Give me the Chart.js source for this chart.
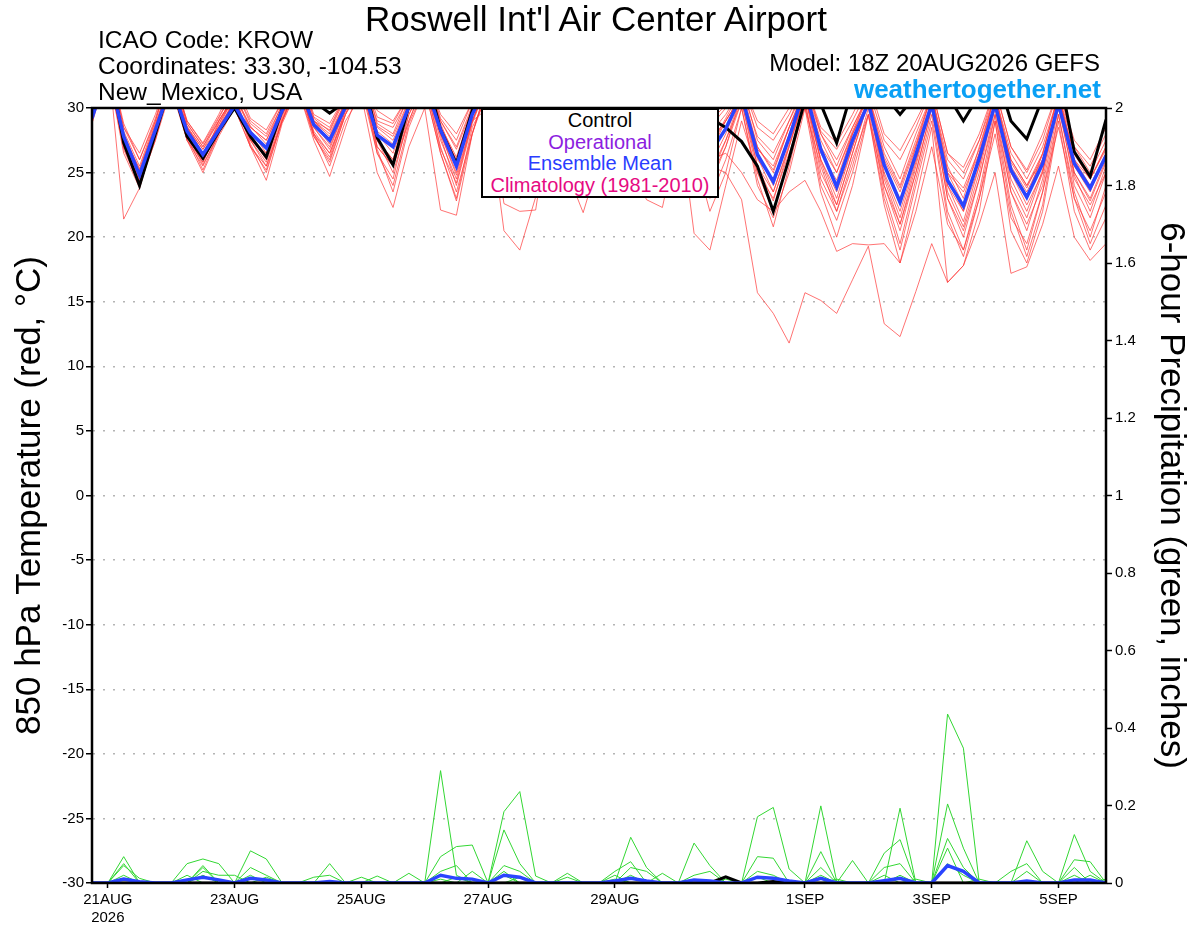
<!DOCTYPE html>
<html>
<head>
<meta charset="utf-8">
<script src="https://cdn.jsdelivr.net/npm/chart.js@4.4.1/dist/chart.umd.min.js"></script>
<style>
body { margin: 0; background: #fff; }
#wrap { position: relative; width: 1200px; height: 927px; font-family: "Liberation Sans", Arial, sans-serif; color: #000; }
#c { position: absolute; left: 0; top: 0; }
.t { position: absolute; white-space: nowrap; }
#legendBox { position: absolute; left: 481px; top: 108px; width: 234px; height: 86px; border: 2px solid #000; background: #fff; text-align: center; font-size: 20px; line-height: 21.5px; }
</style>
</head>
<body>
<div id="wrap">
<canvas id="c" width="1200" height="927"></canvas>
<div class="t" style="left:0;width:1192px;top:1px;text-align:center;font-size:35px;line-height:35px;">Roswell Int'l Air Center Airport</div>
<div class="t" style="left:98px;top:28px;font-size:24.5px;line-height:24px;">ICAO Code: KROW</div>
<div class="t" style="left:98px;top:54px;font-size:24.5px;line-height:24px;">Coordinates: 33.30, -104.53</div>
<div class="t" style="left:98px;top:80px;font-size:24.5px;line-height:24px;">New_Mexico, USA</div>
<div class="t" style="right:100px;top:51px;font-size:24px;line-height:24px;">Model: 18Z 20AUG2026 GEFS</div>
<div class="t" style="right:99px;top:76px;font-size:26px;line-height:26px;font-weight:bold;color:#0aa0f5;">weathertogether.net</div>
<div id="legendBox">
  <div style="color:#000">Control</div>
  <div style="color:#8c1ee0">Operational</div>
  <div style="color:#2a3cff">Ensemble Mean</div>
  <div style="color:#e60a82">Climatology (1981-2010)</div>
</div>
</div>
<script>
// time steps: 0 = 18Z 20AUG, every 6 hours up to 18Z 5SEP
const steps = Array.from({length: 65}, (_, i) => i);
const tickSteps = [1, 9, 17, 25, 33, 45, 53, 61];
const tickDates = ['21AUG', '23AUG', '25AUG', '27AUG', '29AUG', '1SEP', '3SEP', '5SEP'];
const tickYear = '2026';

// 850 hPa temperature, control and ensemble mean (values above 30 run off the top)
const controlTemp = [30.5,
  34,27.3,24.0,28.0, 32,27.8,26.1,28.2, 30.0,27.8,26.2,29.9, 33,30.5,29.6,30.5,
  33,27.7,25.6,30.2, 33,28.3,25.7,29.8, 33,29.5,28.0,30.5, 33,31,30.2,31,
  33,31,30.3,30.6, 32,30.0,29.2,28.5, 27.4,25.5,22.0,26.1, 30.6,30.3,27.3,31.5,
  33,31,29.5,31, 33,31,29.0,31, 33,29.0,27.6,30.8, 33,26.6,24.7,29.1];
const meanTemp = [29.2,
  33,27.8,24.8,28.3, 31.8,28.2,26.4,28.3, 30.2,28.1,26.9,29.8, 32,28.7,27.5,30.1,
  32,27.9,27.0,30.1, 32,28.3,25.5,29.5, 32,29.0,27.5,29.2, 32,30.5,29.6,30.3,
  32,30.4,29.7,30.2, 32,29.5,26.5,28.4, 31,26.4,24.3,27.7, 31.5,26.8,23.9,27.5,
  30.4,25.6,22.7,26.4, 30.3,24.4,22.4,26.1, 30.3,25.2,23.1,25.7, 30.3,25.7,23.8,26.3];

// ensemble members
const mem01 = [29.5, 33,26.5,23.8,28.0, 32,27.5,25.8,28.5, 31,27.2,25.0,29.0, 32,27.8,26.0,29.5, 33,27.0,25.5,29.0, 32,26.8,24.2,29.0, 32,27.5,25.0,28.5, 32,29.5,28.0,30.5, 32,30.0,28.5,30.5, 31,27.5,24.5,27.5, 31,25.5,22.8,27.0, 31,25.8,22.5,26.5, 30.5,24.5,21.0,25.5, 30.5,23.5,20.8,25.0, 30.5,24.0,21.5,25.0, 31,24.8,22.0,25.5];
const mem02 = [30.5, 34,28.5,26.5,29.5, 33,29.0,27.3,29.5, 32,29.2,28.3,30.5, 33,29.5,28.8,31, 33,29.8,29.0,31, 33,29.5,28.0,30.5, 33,30.5,29.5,31, 33,31.5,31.0,31.5, 33,31.5,31.0,31.5, 33,30.5,29.5,30.5, 32,29.0,28.0,30.0, 32,28.5,27.3,29.5, 32,28.0,26.7,29.0, 31.5,26.5,25.4,28.0, 31.5,27.0,25.2,28.0, 31.5,27.5,26.0,28.5];
const mem03 = [28.8, 34,21.4,23.8,28.0, 32,28.0,26.0,29.0, 31,27.5,26.5,29.5, 32,28.5,27.0,30.0, 32,28.0,26.5,30.0, 32,28.5,26.0,30.0, 32,29.0,27.0,29.5, 32,30.5,29.5,31, 32,30.5,29.0,30.5, 32,29.0,26.5,29.0, 31,26.0,24.4,28.0, 31,26.5,24.4,28.0, 31,25.5,22.5,27.0, 31,24.0,22.0,26.5, 31,25.0,23.0,26.5, 31,26.0,24.0,26.5];
const mem04 = [29.8, 33,27.5,24.5,28.0, 32,28.5,26.5,28.5, 30.5,28.0,27.0,30.0, 32,28.8,27.5,30.5, 32,27.5,26.0,30.0, 32,28.0,25.0,29.5, 32,28.5,27.5,29.0, 32,30.0,29.0,30.5, 31,29.5,28.5,29.5, 30,27.0,25.5,25.0, 22.9,15.7,14.1,11.8, 15.7,15.1,14.1,16.7, 19.3,13.3,12.3,15.8, 19.5,16.5,17.8,21.0, 25.0,17.2,17.7,21.0, 25.5,20.0,18.2,19.5];
const mem05 = [29.5, 33,27.0,24.2,27.5, 32,27.8,25.2,28.0, 31,27.0,25.5,29.0, 32,28.0,26.5,29.5, 32,26.5,24.5,29.5, 32,27.5,24.5,29.0, 32,27.0,26.0,28.5, 32,29.5,28.5,30.5, 31.5,29.5,29.0,30.0, 31,28.0,26.0,26.5, 25.0,22.9,22.0,23.5, 24.4,22.0,18.9,19.5, 19.4,19.5,18.0,22.0, 27.0,21.0,19.0,23.0, 28.0,21.5,19.5,23.5, 28.5,23.0,20.5,23.5];
const mem06 = [30.2, 33,27.8,25.0,28.5, 32,28.0,26.0,28.8, 31,27.5,25.5,29.0, 32,28.0,25.5,29.0, 31,25.0,22.3,27.0, 30,22.1,21.7,28.0, 32,28.0,26.5,29.5, 32,30.0,29.0,30.5, 32,30.5,29.5,30.8, 31,28.5,27.0,29.0, 31,27.0,25.0,28.5, 31,27.0,25.0,28.0, 30.5,26.0,23.5,27.0, 30.5,25.0,23.5,26.5, 30.5,26.0,24.0,26.0, 30.5,26.5,24.5,27.0];
const mem07 = [29.6, 33,28.0,25.2,28.8, 32,28.5,26.8,28.5, 30,28.5,27.5,30.0, 32,29.0,28.0,30.5, 32,28.5,27.5,30.5, 32,28.0,25.5,29.0, 30,20.5,19.0,23.1, 31,27.0,25.0,29.0, 32,30.0,28.0,29.5, 30,20.3,19.0,24.0, 29.0,25.0,23.0,26.5, 30.0,25.5,22.0,26.0, 29.5,24.0,21.0,25.0, 30.0,23.0,20.5,24.5, 29.5,23.5,21.0,24.0, 30.0,24.5,22.5,25.0];
const mem08 = [30.0, 33,27.5,24.8,28.0, 32,28.0,26.5,28.5, 30.5,28.0,27.0,29.5, 32,29.0,27.8,30.5, 32,28.0,27.0,30.0, 32,28.5,25.8,29.5, 31,22.6,22.0,22.1, 30,25.0,21.9,26.0, 30,25.5,22.9,22.3, 28,26.0,24.5,27.0, 31,26.5,24.0,27.5, 31,26.0,23.0,27.0, 30.5,25.0,22.0,26.0, 30.5,24.5,22.0,25.5, 30.5,25.0,22.5,25.0, 30.5,25.0,23.0,26.0];
const mem09 = [30.3, 34,28.2,25.5,29.0, 33,28.8,27.0,29.2, 31.5,28.8,27.8,30.2, 33,29.2,28.2,30.8, 33,28.8,28.0,31.0, 33,29.0,26.8,30.0, 33,29.5,28.5,30.2, 33,31.0,30.5,31.0, 33,31.0,30.5,31.0, 32,30.0,28.5,30.0, 32,27.5,26.0,29.0, 32,28.0,26.0,28.5, 31,27.0,24.5,28.0, 31,26.0,24.5,27.5, 31,26.5,24.5,27.0, 31,27.0,25.0,27.5];
const mem10 = [29.0, 33,27.0,24.0,27.8, 32,27.5,25.5,28.0, 30,27.0,24.4,28.8, 31.5,27.5,24.7,28.5, 32,27.5,25.0,29.0, 32,27.0,23.5,28.0, 32,27.5,24.0,27.5, 32,28.5,27.0,29.5, 31,28.5,27.0,29.0, 31,27.0,23.0,26.0, 30,24.5,20.8,25.5, 30.5,24.0,21.3,25.0, 29.5,23.0,19.0,24.0, 29.0,21.5,18.5,23.0, 29.0,22.0,18.5,22.5, 29.5,23.0,19.5,22.5];
const mem11 = [30.8, 34,28.8,26.0,29.2, 33,28.8,27.0,29.0, 31,28.5,27.5,30.3, 32.5,29.0,28.3,31.0, 32.5,29.0,28.5,30.8, 32.5,29.0,27.0,30.2, 32.5,30.0,28.8,30.5, 32.5,31.0,30.2,31.0, 32.5,30.8,30.0,30.8, 32,29.5,28.0,29.5, 31.5,27.8,26.5,29.0, 31.5,28.0,25.5,28.5, 31,26.5,24.0,27.5, 31,25.5,23.0,27.0, 31,26.0,24.0,26.5, 31,26.0,24.5,27.0];
const mem12 = [29.3, 33,27.2,24.3,28.2, 32,28.2,26.2,28.2, 30.5,27.8,26.0,29.5, 32,28.5,26.8,30.0, 32,27.5,26.0,29.8, 32,28.0,24.8,29.0, 32,28.5,26.5,28.0, 32,30.0,28.5,30.0, 32,29.8,28.5,30.0, 31.5,28.0,25.0,27.5, 30.5,25.5,23.5,27.0, 31,25.0,22.5,26.5, 30.5,24.0,20.5,25.0, 30.0,23.0,20.0,24.5, 30.0,23.5,20.5,24.5, 30.5,24.0,21.5,25.0];
const mem13 = [30.0, 33.5,27.8,25.3,28.7, 32.5,28.5,26.5,28.7, 31,28.3,26.5,29.8, 32.5,28.8,27.2,30.3, 32.5,28.2,27.2,30.3, 32.5,28.8,25.8,29.8, 32.5,29.0,28.0,30.0, 32.5,30.8,29.8,30.8, 32.5,30.5,29.5,30.5, 32,29.0,27.5,29.0, 31,26.8,25.5,28.5, 31.5,27.0,24.0,28.0, 30.5,25.5,23.0,26.5, 30.5,25.0,22.5,26.0, 30.5,25.5,23.5,26.0, 30.5,25.5,23.5,26.5];
const mem14 = [28.8, 33,26.8,24.0,27.5, 31.5,27.5,25.0,27.8, 30,27.0,25.2,29.0, 31.5,27.8,25.8,29.5, 31.5,26.5,24.0,28.8, 31.5,26.5,23.0,28.5, 31,26.0,24.5,27.0, 31.5,29.0,27.5,29.8, 31.5,29.0,27.5,29.5, 31,27.5,24.0,27.0, 30.5,25.0,22.0,26.0, 30.5,24.5,22.0,25.5, 30,23.5,19.5,24.5, 29.5,22.0,19.0,23.5, 29.5,22.5,19.0,23.5, 29.5,23.5,20.0,24.0];
const mem15 = [31.0, 34,28.5,26.0,29.0, 33,29.0,27.2,29.3, 31.5,29.0,28.0,30.5, 33,29.3,28.5,31, 33,29.3,28.8,31, 33,29.2,27.5,30.5, 33,30.2,29.2,30.8, 33,31.2,30.8,31.2, 33,31.2,30.8,31.2, 32.5,30.2,29.0,30.2, 32,28.5,27.5,29.5, 32,28.2,26.8,29.0, 31.5,27.5,26.0,28.5, 31.5,26.5,25.0,27.5, 31.5,27.0,25.0,27.5, 31.5,27.0,25.5,28.0];
const mem16 = [29.7, 33,27.6,24.6,28.2, 32,27.8,25.8,28.4, 30.5,27.6,26.2,29.4, 32,28.2,26.5,29.8, 32,27.0,25.5,29.5, 32,27.8,24.0,28.8, 32,28.0,25.5,28.0, 32,29.8,28.2,30.2, 32,29.6,28.0,29.8, 31.5,28.0,25.5,28.0, 31,26.2,23.5,27.2, 31,26.0,23.5,27.0, 30.5,24.8,21.5,25.8, 30.5,24.0,21.2,25.5, 30.5,24.5,22.0,25.2, 30.5,25.0,22.8,25.8];
const mem17 = [30.4, 33.5,28.0,25.0,28.5, 32.5,28.6,26.8,29.0, 31,28.6,27.2,30.0, 32.5,29.0,27.5,30.5, 32.5,28.6,27.8,30.6, 32.5,28.6,26.2,30.0, 32.5,29.6,28.2,30.3, 32.5,30.6,29.8,30.8, 32.5,30.6,29.8,30.8, 32,29.2,27.0,29.2, 31.5,27.0,25.2,28.5, 31.5,27.5,25.0,28.2, 31,26.2,23.8,27.2, 31,25.2,23.8,26.8, 31,25.8,23.8,26.4, 31,26.4,24.5,26.8];
const mem18 = [29.4, 33,27.4,24.4,28.0, 32,28.0,25.6,28.0, 30.5,27.5,25.8,29.2, 32,28.0,26.2,29.8, 32,26.8,23.5,28.5, 31.5,26.5,22.8,28.0, 31.5,26.0,23.0,26.5, 31.5,28.5,26.0,29.0, 31.5,28.5,26.5,28.8, 31,26.5,22.0,25.0, 30,24.0,21.5,25.0, 30,23.5,20.0,24.0, 29.5,22.5,18.0,23.0, 28.5,16.5,17.8,22.0, 29.0,20.5,18.0,22.0, 29.0,22.0,19.0,21.5];

// 6-hour precipitation (inches)
const controlPrecip = [0, 0,0,0,0, 0,0,0,0, 0,0,0,0, 0,0,0,0, 0,0,0,0, 0,0,0,0, 0,0,0,0, 0,0,0,0, 0,0,0,0, 0,0,0,.016, 0,0,.004,0, 0,0,0,0, 0,0,0,0, 0,0,0,0, 0,0,0,0, 0,0,0,0];
const meanPrecip = [0, 0,.01,.003,0, 0,.008,.015,.008, 0,.012,.008,0, 0,0,.004,0, 0,0,0,0, 0,.02,.012,.01, 0,.02,.015,0, 0,0,0,0, .005,.012,.005,0, 0,.008,.005,0, 0,.015,.012,.005, 0,.012,0,0, 0,.006,.012,0, 0,.045,.03,0, 0,0,.005,0, 0,.008,.008,0];
const pmem1 = [0, 0,.068,0,0, 0,0,.045,0, 0,.083,.062,0, 0,0,0,0, 0,0,0,0, 0,.29,.02,0, 0,.184,.236,.018, 0,0,0,0, 0,.118,.04,0, 0,0,0,0, 0,.171,.195,.036, 0,0,0,0, 0,0,.193,0, 0,.436,.348,0, 0,0,0,0, 0,.125,.03,0];
const pmem2 = [0, 0,.05,0,0, 0,.05,.062,.05, 0,0,0,0, 0,0,.05,0, 0,0,0,0, 0,.068,.094,.098, 0,.137,.05,0, 0,0,0,0, .03,.055,0,0, 0,.103,.045,0, 0,0,0,0, 0,.199,.005,0, 0,.077,.112,0, 0,.204,.09,0, 0,0,.109,.03, 0,0,0,0];
const pmem3 = [0, 0,.045,.012,0, 0,0,.04,0, 0,.04,.02,0, 0,0,0,0, 0,.018,0,.025, 0,.03,.045,0, 0,.045,.03,0, 0,.025,0,0, 0,.04,.03,0, 0,0,0,0, 0,.068,.064,0, 0,.081,0,.058, 0,.04,.05,0, 0,.115,.04,0, 0,.03,.05,0, 0,.06,.055,0];
const pmem4 = [0, 0,.02,0,0, 0,0,.03,.02, .02,0,0,0, 0,.015,.02,0, .015,0,0,0, 0,0,0,.03, 0,.03,0,0, 0,.015,0,0, .02,0,0,.025, 0,.02,.03,0, 0,.03,.02,0, 0,.04,0,0, 0,.02,0,0, 0,.09,0,0, 0,0,.03,0, 0,.04,0,.01];
const pmem5 = [0, 0,0,0,0, 0,0,.02,0, 0,0,.015,0, 0,0,0,0, 0,0,0,0, 0,0,.015,0, 0,0,.015,0, 0,0,0,0, 0,.02,0,0, 0,0,0,.01, 0,0,0,0, 0,.02,0,0, 0,0,0,.01, 0,.05,.02,0, 0,0,0,0, 0,0,.02,0];
const pmem6 = [0, 0,0,0,0, 0,.02,0,0, 0,.02,0,0, 0,0,0,0, 0,0,0,0, 0,.01,0,0, 0,.02,0,0, 0,0,0,0, .01,0,0,0, 0,0,0,0, 0,.015,0,0, 0,0,.01,0, 0,0,.02,0, 0,0,0,.01, 0,0,0,0, 0,.02,0,0];

const tempMembers = [mem01, mem02, mem03, mem04, mem05, mem06, mem07, mem08, mem09,
  mem10, mem11, mem12, mem13, mem14, mem15, mem16, mem17, mem18];
const precipMembers = [pmem1, pmem2, pmem3, pmem4, pmem5, pmem6];

Chart.defaults.font.family = '"Liberation Sans", Arial, sans-serif';
Chart.defaults.color = '#000';

const datasets = [
  {data: meanTemp, yAxisID: 'y', borderColor: '#2a44ff', borderWidth: 3.5},
  {data: controlTemp, yAxisID: 'y', borderColor: '#000', borderWidth: 3},
  {data: meanPrecip, yAxisID: 'y2', borderColor: '#2a44ff', borderWidth: 3.5},
  {data: controlPrecip, yAxisID: 'y2', borderColor: '#000', borderWidth: 3}
];
precipMembers.forEach(p => datasets.push({data: p, yAxisID: 'y2', borderColor: 'rgb(50,215,50)', borderWidth: 1}));
tempMembers.forEach(m => datasets.push({data: m, yAxisID: 'y', borderColor: 'rgba(255,55,55,0.7)', borderWidth: 1}));

const framePlugin = {
  id: 'frame',
  afterDraw(chart) {
    const {ctx, chartArea: a} = chart;
    ctx.save();
    ctx.strokeStyle = '#000';
    ctx.lineWidth = 2.5;
    ctx.strokeRect(a.left, a.top, a.right - a.left, a.bottom - a.top);
    ctx.restore();
  }
};

new Chart(document.getElementById('c'), {
  type: 'line',
  data: {labels: steps, datasets: datasets},
  plugins: [framePlugin],
  options: {
    responsive: false,
    animation: false,
    devicePixelRatio: 1,
    layout: {padding: {top: 108, left: 0, right: 0, bottom: 0}},
    plugins: {legend: {display: false}, tooltip: {enabled: false}},
    elements: {point: {radius: 0}, line: {tension: 0}},
    scales: {
      x: {
        type: 'linear', min: 0, max: 64,
        afterBuildTicks: s => { s.ticks = tickSteps.map(v => ({value: v})); },
        afterFit: s => { s.height = 44; },
        ticks: {
          autoSkip: false, maxRotation: 0, padding: 3, font: {size: 15},
          callback: v => {
            const k = tickSteps.indexOf(v);
            if (k < 0) return '';
            return k === 0 ? [tickDates[k], tickYear] : tickDates[k];
          }
        },
        grid: {drawOnChartArea: false, tickLength: 5, color: '#000', tickWidth: 1.5},
        border: {color: '#000', width: 2}
      },
      y: {
        position: 'left', min: -30, max: 30,
        afterFit: s => { s.width = 92; },
        ticks: {stepSize: 5, padding: 2, font: {size: 15}},
        grid: {color: '#b4b4b4', lineWidth: 1.5, tickColor: '#000', tickWidth: 1.5, tickLength: 6, tickBorderDash: []},
        border: {color: '#000', width: 2, dash: [2, 8]},
        title: {display: true, text: '850 hPa Temperature (red, °C)', font: {size: 35}, padding: {top: 9, bottom: 0}}
      },
      y2: {
        position: 'right', min: 0, max: 2,
        afterFit: s => { s.width = 94; },
        ticks: {stepSize: 0.2, padding: 3, font: {size: 15}, callback: v => String(Math.round(v * 10) / 10)},
        grid: {drawOnChartArea: false, color: '#000', tickLength: 6, tickWidth: 1.5},
        border: {color: '#000', width: 2},
        title: {display: true, text: '6-hour Precipitation (green, inches)', font: {size: 35}, padding: {top: 8, bottom: 0}}
      }
    }
  }
});
</script>
</body>
</html>
